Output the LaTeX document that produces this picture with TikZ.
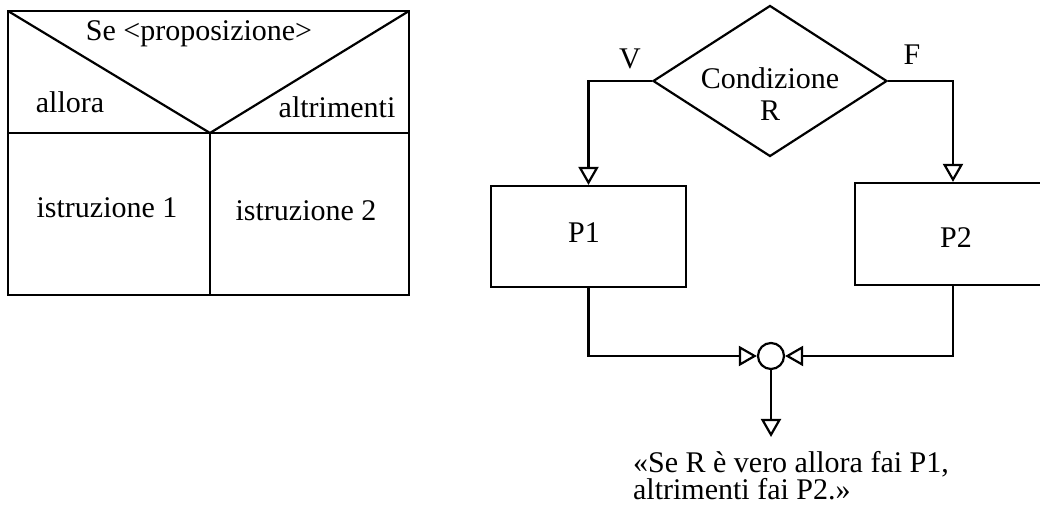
\documentclass[tikz,border=0pt]{standalone}
\usepackage{fontspec}
\setmainfont{Liberation Serif}
\usetikzlibrary{arrows.meta,shapes.geometric,positioning}

\begin{document}
\begin{tikzpicture}[
  x=0.5pt, y=-0.5pt,
  >={Triangle[open,length=9pt,width=10pt]},
  line width=1.1pt,
  every node/.style={inner sep=0pt,font=\fontsize{15}{16}\selectfont},
  box/.style={draw,rectangle,minimum width=97.5pt,minimum height=50.5pt},
  decision/.style={draw,diamond,aspect=1.55,minimum width=117pt,minimum height=75.5pt},
  merge/.style={draw,circle,minimum size=13pt},
  flow/.style={->},
  ]
  \clip (0,0) rectangle (1040,506);

  % tabella di Nassi-Shneiderman
  \coordinate (TL) at (8,11);
  \coordinate (TR) at (409,11);
  \coordinate (BL) at (8,295);
  \coordinate (BR) at (409,295);
  \coordinate (ML) at (8,133);
  \coordinate (MR) at (409,133);
  \coordinate (V) at (210,133);
  \coordinate (VB) at (210,295);
  \draw (TL) rectangle (BR);
  \draw (ML) -- (MR);
  \draw (TL) -- (V) -- (TR);
  \draw (V) -- (VB);
  \node[anchor=base] (se) at (199,41) {Se <proposizione>};
  \node[anchor=base] (allora) at (70,113) {allora};
  \node[anchor=base] (altrimenti) at (337,118) {altrimenti};
  \node[anchor=base] (istr1) at (107,218) {istruzione 1};
  \node[anchor=base] (istr2) at (306,221) {istruzione 2};

  % diagramma di flusso
  \node[decision] (R) at (770,81) {};
  \node[anchor=base,align=center] (Rtxt) at (770,121) {Condizione\\R};
  \node[box] (P1) at (588.5,236.5) {};
  \node[anchor=base] (P1txt) at (584,243) {P1};
  \node[box,minimum width=98pt,minimum height=51pt] (P2) at (953,234) {};
  \node[anchor=base] (P2txt) at (956,248) {P2};
  \node[merge] (J) at (771,356) {};
  \coordinate (out) at (771,437);
  \node[anchor=base] (Vlab) at (630,69) {V};
  \node[anchor=base] (Flab) at (912,65) {F};
  \node[anchor=base west,align=left,font=\fontsize{15}{13.5}\selectfont] (frase) at (632,500)
    {«Se R è vero allora fai P1,\\altrimenti fai P2.»};

  \draw [flow] (R.west) -| (P1.north);
  \draw [flow] (R.east) -| (P2.north);
  \draw [flow] (P1.south) |- (J.west);
  \draw [flow] (P2.south) |- (J.east);
  \draw [flow] (J.south) -- (out);

\end{tikzpicture}
\end{document}
